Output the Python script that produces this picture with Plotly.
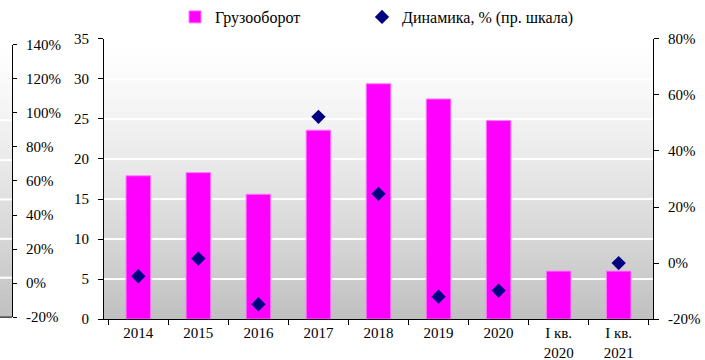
import plotly.graph_objects as go

# Categories and series
categories = ["2014", "2015", "2016", "2017", "2018", "2019", "2020", "I кв.<br>2020", "I кв.<br>2021"]
cargo_turnover = [17.9, 18.3, 15.6, 23.6, 29.4, 27.5, 24.8, 6.0, 6.0]
dynamics_pct = [-4.7, 1.6, -14.7, 52.2, 24.7, -12.0, -9.8, None, 0.0]

# Axis ticks
left_ticks = [0, 5, 10, 15, 20, 25, 30, 35]
right_ticks = [-20, 0, 20, 40, 60, 80]
strip_ticks = [-20, 0, 20, 40, 60, 80, 100, 120, 140]

W, H = 705, 360
FONT = "Liberation Serif"


def pct_labels(vals):
    return [f"{v}%" for v in vals]


def px_x(x):
    return x / W


def px_y(y):
    return 1 - y / H


# Plot-area geometry in pixels
MAIN_L, MAIN_R, MAIN_T, MAIN_B = 104, 653, 38, 319
STRIP_L, STRIP_R, STRIP_T, STRIP_B = 0, 12, 38, 317

shapes = []


def gradient(x0, x1, y0, y1, n=70):
    step = (y1 - y0) / n
    for i in range(n):
        t = (i + 0.5) / n
        v = int(round(255 - 63 * t ** 1.3))
        shapes.append(dict(
            type="rect", xref="paper", yref="paper", layer="below",
            x0=px_x(x0), x1=px_x(x1),
            y0=px_y(y0 + i * step), y1=px_y(y0 + (i + 1) * step + 0.6),
            fillcolor=f"rgb({v},{v},{v})", line=dict(width=0),
        ))


gradient(MAIN_L, MAIN_R, MAIN_T, MAIN_B)
gradient(STRIP_L, STRIP_R, STRIP_T, STRIP_B)

# Gridlines of the neighbouring panel strip
for gy in [119.5, 159.5, 199.0, 238.5, 277.5]:
    shapes.append(dict(
        type="line", xref="paper", yref="paper", layer="below",
        x0=px_x(STRIP_L), x1=px_x(STRIP_R), y0=px_y(gy), y1=px_y(gy),
        line=dict(color="white", width=2),
    ))
# Bottom axis line of the strip
shapes.append(dict(
    type="line", xref="paper", yref="paper",
    x0=px_x(STRIP_L), x1=px_x(STRIP_R), y0=px_y(STRIP_B), y1=px_y(STRIP_B),
    line=dict(color="black", width=1),
))

fig = go.Figure()

fig.add_trace(go.Bar(
    x=categories, y=cargo_turnover, name="Грузооборот",
    marker=dict(color="#ff00ff", line=dict(color="#ff7cff", width=1)),
    yaxis="y", legend="legend",
))

fig.add_trace(go.Scatter(
    x=categories, y=dynamics_pct, name="Динамика, % (пр. шкала)",
    mode="markers",
    marker=dict(symbol="diamond", size=11, color="#000080"),
    yaxis="y2", legend="legend2",
))

# Carrier trace for the strip axis
fig.add_trace(go.Scatter(x=[], y=[], yaxis="y3", showlegend=False, hoverinfo="skip"))

axis_font = dict(family=FONT, size=15, color="black")
legend_font = dict(family=FONT, size=16, color="black")

fig.update_layout(
    width=W, height=H,
    margin=dict(l=0, r=0, t=0, b=0),
    paper_bgcolor="white",
    plot_bgcolor="rgba(0,0,0,0)",
    font=axis_font,
    bargap=0.59,
    shapes=shapes,
    xaxis=dict(
        domain=[px_x(MAIN_L), px_x(MAIN_R)],
        type="category", tickson="boundaries",
        ticks="outside", ticklen=5, tickcolor="black",
        showline=True, linecolor="black", linewidth=1,
        showgrid=False, tickfont=axis_font, automargin=False,
        ticklabelstandoff=0,
    ),
    yaxis=dict(
        domain=[px_y(MAIN_B), px_y(MAIN_T)],
        range=[0, 35], tickvals=left_ticks,
        ticks="outside", ticklen=5, tickcolor="black",
        showline=True, linecolor="black", linewidth=1,
        showgrid=True, gridcolor="white", gridwidth=2,
        zeroline=False, tickfont=axis_font, automargin=False,
        ticklabelstandoff=6,
    ),
    yaxis2=dict(
        overlaying="y", side="right", anchor="x",
        range=[-20, 80], tickvals=right_ticks, ticktext=pct_labels(right_ticks),
        ticks="outside", ticklen=5, tickcolor="black",
        showline=True, linecolor="black", linewidth=1,
        showgrid=False, zeroline=False, tickfont=axis_font, automargin=False,
        ticklabelstandoff=6,
    ),
    yaxis3=dict(
        domain=[px_y(317), px_y(44)],
        anchor="free", position=px_x(STRIP_R), side="right",
        range=[-20, 140], tickvals=strip_ticks, ticktext=pct_labels(strip_ticks),
        ticks="outside", ticklen=4, tickcolor="black",
        showline=True, linecolor="black", linewidth=1,
        showgrid=False, zeroline=False, tickfont=axis_font, automargin=False,
        ticklabelstandoff=6,
    ),
    legend=dict(
        x=px_x(175), y=px_y(16), xanchor="left", yanchor="middle",
        orientation="h", bgcolor="rgba(0,0,0,0)", font=legend_font,
    ),
    legend2=dict(
        x=px_x(362), y=px_y(16), xanchor="left", yanchor="middle",
        orientation="h", bgcolor="rgba(0,0,0,0)", font=legend_font,
    ),
    showlegend=True,
)

fig.write_html("out.html")
